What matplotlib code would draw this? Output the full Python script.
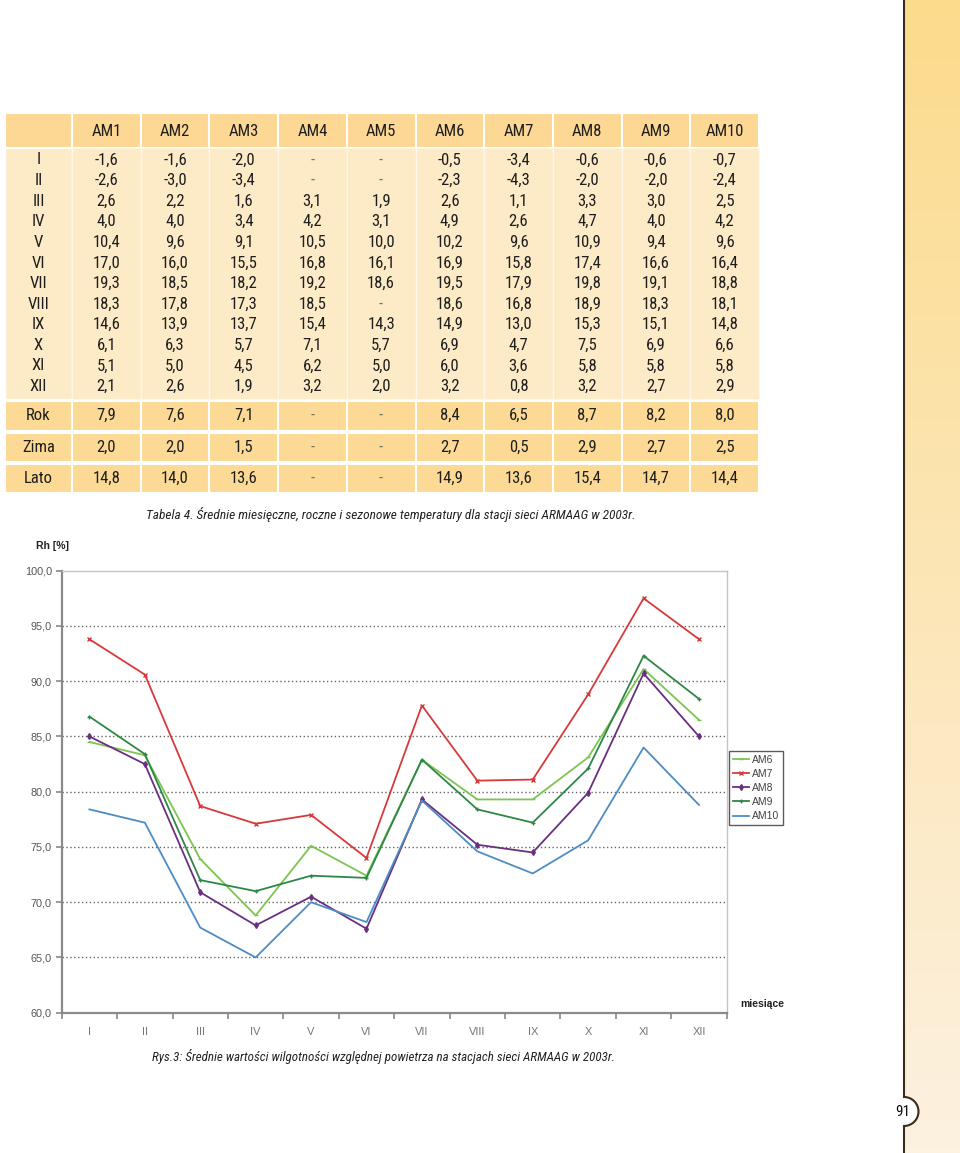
import numpy as np
import matplotlib
matplotlib.use("Agg")
import matplotlib.pyplot as plt
from matplotlib.patches import Rectangle, Wedge, Arc

# ---------------- data ----------------
stations = ["AM1", "AM2", "AM3", "AM4", "AM5", "AM6", "AM7", "AM8", "AM9", "AM10"]
months = ["I", "II", "III", "IV", "V", "VI", "VII", "VIII", "IX", "X", "XI", "XII"]
nan = np.nan
temp_monthly = [
    [-1.6, -1.6, -2.0, nan, nan, -0.5, -3.4, -0.6, -0.6, -0.7],
    [-2.6, -3.0, -3.4, nan, nan, -2.3, -4.3, -2.0, -2.0, -2.4],
    [2.6, 2.2, 1.6, 3.1, 1.9, 2.6, 1.1, 3.3, 3.0, 2.5],
    [4.0, 4.0, 3.4, 4.2, 3.1, 4.9, 2.6, 4.7, 4.0, 4.2],
    [10.4, 9.6, 9.1, 10.5, 10.0, 10.2, 9.6, 10.9, 9.4, 9.6],
    [17.0, 16.0, 15.5, 16.8, 16.1, 16.9, 15.8, 17.4, 16.6, 16.4],
    [19.3, 18.5, 18.2, 19.2, 18.6, 19.5, 17.9, 19.8, 19.1, 18.8],
    [18.3, 17.8, 17.3, 18.5, nan, 18.6, 16.8, 18.9, 18.3, 18.1],
    [14.6, 13.9, 13.7, 15.4, 14.3, 14.9, 13.0, 15.3, 15.1, 14.8],
    [6.1, 6.3, 5.7, 7.1, 5.7, 6.9, 4.7, 7.5, 6.9, 6.6],
    [5.1, 5.0, 4.5, 6.2, 5.0, 6.0, 3.6, 5.8, 5.8, 5.8],
    [2.1, 2.6, 1.9, 3.2, 2.0, 3.2, 0.8, 3.2, 2.7, 2.9],
]
summary_labels = ["Rok", "Zima", "Lato"]
temp_rok = [7.9, 7.6, 7.1, nan, nan, 8.4, 6.5, 8.7, 8.2, 8.0]
temp_zima = [2.0, 2.0, 1.5, nan, nan, 2.7, 0.5, 2.9, 2.7, 2.5]
temp_lato = [14.8, 14.0, 13.6, nan, nan, 14.9, 13.6, 15.4, 14.7, 14.4]

rh_labels = ["AM6", "AM7", "AM8", "AM9", "AM10"]
rh_am6 = [84.5, 83.3, 73.9, 68.8, 75.1, 72.4, 82.9, 79.3, 79.3, 83.1, 91.1, 86.5]
rh_am7 = [93.8, 90.6, 78.7, 77.1, 77.9, 74.0, 87.8, 81.0, 81.1, 88.8, 97.5, 93.8]
rh_am8 = [85.0, 82.5, 70.9, 67.9, 70.5, 67.6, 79.3, 75.2, 74.5, 79.9, 90.7, 85.0]
rh_am9 = [86.8, 83.4, 72.0, 71.0, 72.4, 72.2, 82.9, 78.4, 77.2, 82.1, 92.3, 88.4]
rh_am10 = [78.4, 77.2, 67.7, 65.0, 70.0, 68.2, 79.2, 74.6, 72.6, 75.6, 84.0, 78.8]
yticks = [60, 65, 70, 75, 80, 85, 90, 95, 100]

# ---------------- figure ----------------
W, H = 960, 1153
fig = plt.figure(figsize=(W / 100, H / 100), dpi=100)
bg = fig.add_axes([0, 0, 1, 1])
bg.set_xlim(0, W)
bg.set_ylim(H, 0)
bg.axis("off")

NARROW = ["Liberation Sans Narrow", "Roboto Condensed", "DejaVu Sans"]
ARIAL = ["Liberation Sans", "DejaVu Sans"]

# right sidebar with gradient
grad = np.linspace(0, 1, 256)[:, None]
c_top = np.array([251, 219, 140]) / 255
c_bot = np.array([253, 241, 224]) / 255
img = c_top[None, None, :] * (1 - grad[:, :, None]) + c_bot[None, None, :] * grad[:, :, None]
bg.imshow(img, extent=[904, 960, H, 0], aspect="auto", zorder=1)
bg.plot([904, 904], [0, 1097], color="#3b2b1f", lw=1.5, zorder=3)
bg.plot([904, 904], [1126, H], color="#3b2b1f", lw=1.5, zorder=3)
bg.add_patch(Wedge((904, 1111.5), 14.5, -90, 90, facecolor="white", edgecolor="none", zorder=2))
bg.add_patch(Arc((904, 1111.5), 29, 29, theta1=-90, theta2=90, color="#3b2b1f", lw=1.5, zorder=3))
bg.text(903, 1112, "91", ha="center", va="center", fontsize=11, family=NARROW, color="#111", zorder=4)

# ---------------- table ----------------
col0_l, col0_r = 5, 72
cw = 68.7
hdr_top, hdr_bot = 113, 148
body_top, body_bot = 148, 399
row_c0, row_dy = 160, 20.6
sum_tops = [401, 432.5, 463.5]
sum_h = 29.5
c_hdr = "#fcd894"
c_body = "#fdeac6"
c_sum = "#fcda96"
txt_c = "#1e1e1e"

def xcol(j):
    return col0_r + j * cw

def fmt(v):
    return "-" if np.isnan(v) else f"{v:.1f}".replace(".", ",")

# header
bg.add_patch(Rectangle((col0_l, hdr_top), col0_r - col0_l, hdr_bot - hdr_top, fc=c_hdr, ec="white", lw=1.5))
for j, s in enumerate(stations):
    bg.add_patch(Rectangle((xcol(j), hdr_top), cw, hdr_bot - hdr_top, fc=c_hdr, ec="white", lw=1.5))
    bg.text(xcol(j) + cw / 2, (hdr_top + hdr_bot) / 2 + 1, s, ha="center", va="center",
            fontsize=12, family=NARROW, color=txt_c)
# body
bg.add_patch(Rectangle((col0_l, body_top), col0_r - col0_l, body_bot - body_top, fc=c_body, ec="white", lw=1))
for j in range(len(stations)):
    bg.add_patch(Rectangle((xcol(j), body_top), cw, body_bot - body_top, fc=c_body, ec="#fff6e8", lw=1))
for i, m in enumerate(months):
    y = row_c0 + i * row_dy
    bg.text((col0_l + col0_r) / 2, y, m, ha="center", va="center", fontsize=12, family=NARROW, color=txt_c)
    for j in range(len(stations)):
        v = temp_monthly[i][j]
        bg.text(xcol(j) + cw / 2, y, fmt(v), ha="center", va="center", fontsize=12, family=NARROW,
                color="#777" if np.isnan(v) else txt_c)
# summary rows
for k, (lab, vals) in enumerate(zip(summary_labels, [temp_rok, temp_zima, temp_lato])):
    t = sum_tops[k]
    yc = t + sum_h / 2
    bg.add_patch(Rectangle((col0_l, t), col0_r - col0_l, sum_h, fc=c_sum, ec="white", lw=1.5))
    bg.text((col0_l + col0_r) / 2, yc, lab, ha="center", va="center", fontsize=12, family=NARROW, color=txt_c)
    for j in range(len(stations)):
        bg.add_patch(Rectangle((xcol(j), t), cw, sum_h, fc=c_sum, ec="white", lw=1.5))
        v = vals[j]
        bg.text(xcol(j) + cw / 2, yc, fmt(v), ha="center", va="center", fontsize=12, family=NARROW,
                color="#777" if np.isnan(v) else txt_c)

bg.text(146, 514, "Tabela 4. Średnie miesięczne, roczne i sezonowe temperatury dla stacji sieci ARMAAG w 2003r.",
        ha="left", va="center", fontsize=9.6, family=NARROW, style="italic", color="#222")
bg.text(152, 1057, "Rys.3: Średnie wartości wilgotności względnej powietrza na stacjach sieci ARMAAG w 2003r.",
        ha="left", va="center", fontsize=9.4, family=NARROW, style="italic", color="#222")

# ---------------- chart ----------------
L, R, T, B = 61.7, 726.7, 570.7, 1012.7
ax = fig.add_axes([L / W, 1 - B / H, (R - L) / W, (B - T) / H])
ax.set_facecolor("none")
x = np.arange(len(months))
series = [rh_am6, rh_am7, rh_am8, rh_am9, rh_am10]
colors = ["#7cc54f", "#d8393b", "#6a2f80", "#2f8747", "#4d8cc4"]
markers = ["_", "x", "d", "+", None]
for vals, lab, c, mk in zip(series, rh_labels, colors, markers):
    ax.plot(x, vals, color=c, lw=1.3, marker=mk, ms=3, mew=1, label=lab)

ax.set_xlim(-0.5, len(months) - 0.5)
ax.set_ylim(60, 100)
ax.set_yticks(yticks)
ax.set_yticklabels([f"{v:.1f}".replace(".", ",") for v in yticks], fontsize=7.8, family=ARIAL, color="#555")
ax.set_xticks(x)
ax.set_xticklabels(months, fontsize=8, family=ARIAL, color="#777")
ax.set_xticks(np.arange(-0.5, len(months)), minor=True)
ax.tick_params(axis="x", which="major", length=0, pad=10)
ax.tick_params(axis="x", which="minor", length=4, color="#888", width=1.2)
ax.tick_params(axis="y", length=4, color="#888", width=1.2, pad=3)
for v in yticks[1:-1]:
    ax.axhline(v, color="#666", lw=1, ls=(0, (1, 1.8)), zorder=0)
for s in ["left", "bottom"]:
    ax.spines[s].set_color("#8a8a8a")
    ax.spines[s].set_linewidth(1.6)
for s in ["top", "right"]:
    ax.spines[s].set_color("#c4c4c4")
    ax.spines[s].set_linewidth(1)

bg.text(36, 546, "Rh [%]", ha="left", va="center", fontsize=7.5, family=ARIAL, weight="bold", color="#222")
bg.text(740, 1004, "miesiące", ha="left", va="center", fontsize=7.5, family=ARIAL, weight="bold", color="#222")

leg = fig.legend(loc="upper left", bbox_to_anchor=(729 / W, 1 - 751 / H),
                 prop={"family": ARIAL, "size": 7.5}, frameon=True, fancybox=False,
                 handlelength=1.6, handletextpad=0.3, borderpad=0.35, labelspacing=0.4,
                 borderaxespad=0)
leg.get_frame().set_edgecolor("#333")
leg.get_frame().set_linewidth(1)
for t in leg.get_texts():
    t.set_color("#444")

fig.savefig("out.png", dpi=100)
